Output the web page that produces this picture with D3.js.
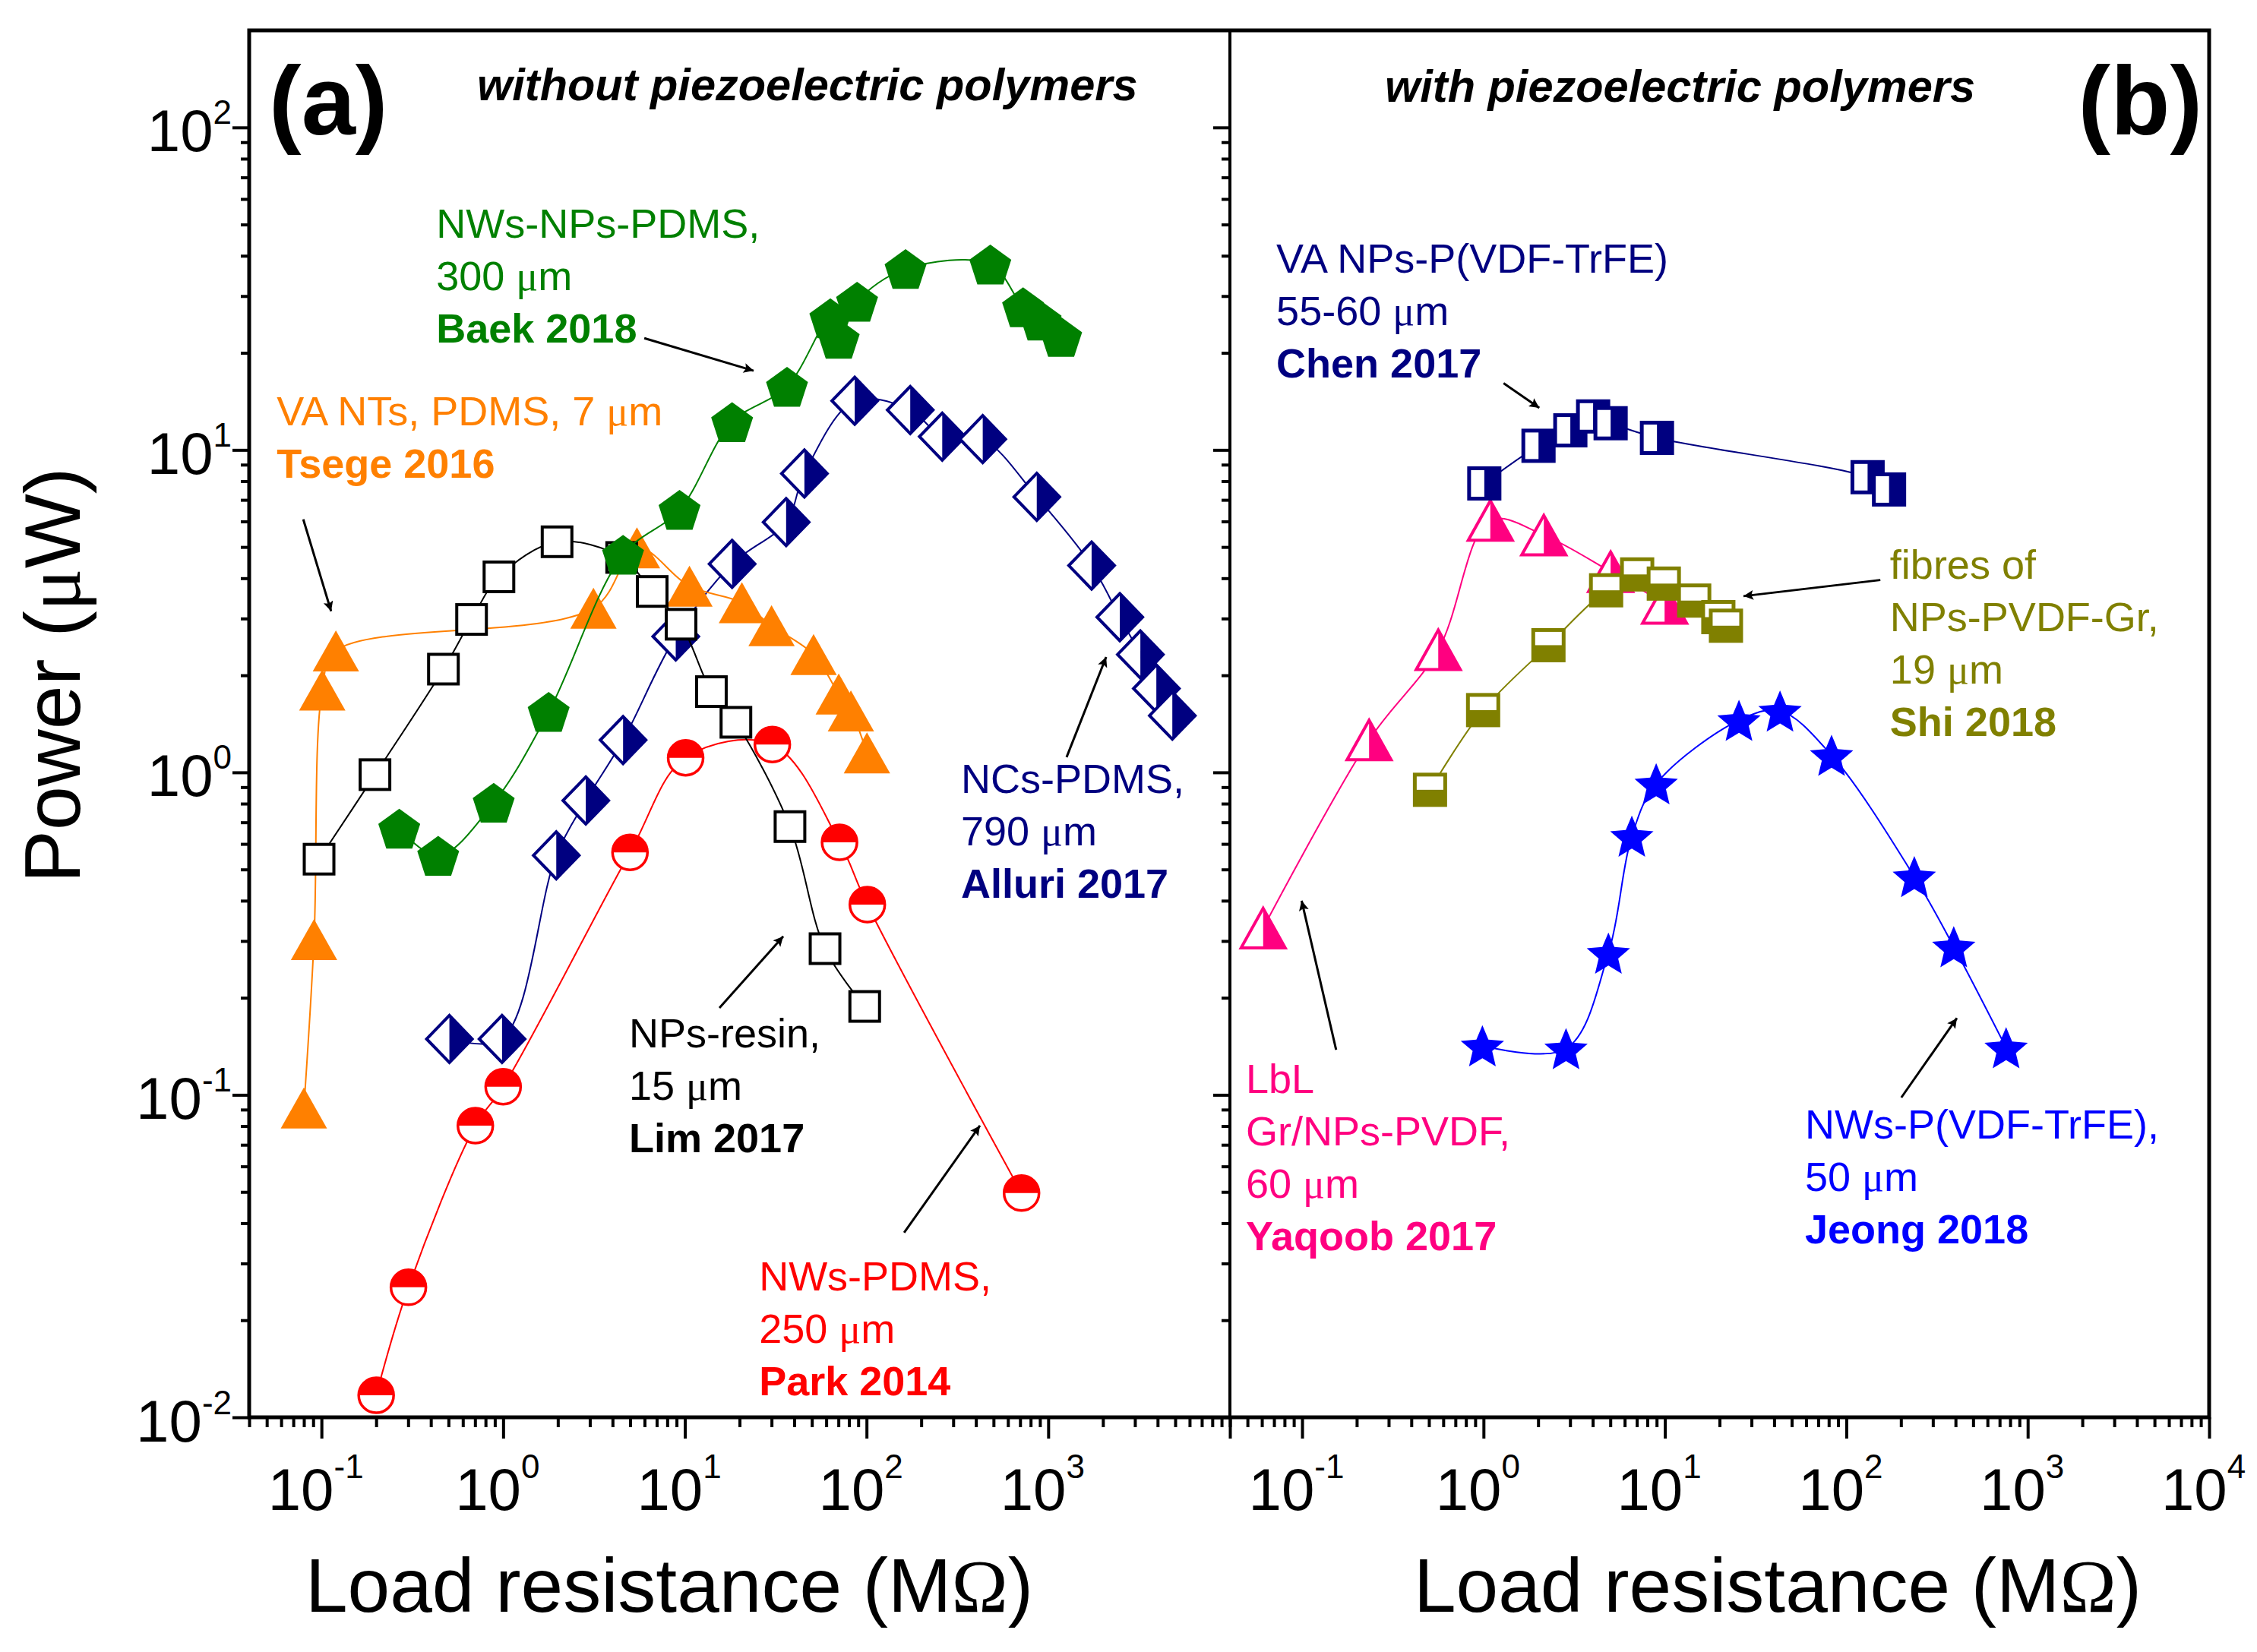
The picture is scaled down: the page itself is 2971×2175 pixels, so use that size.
<!DOCTYPE html>
<html>
<head>
<meta charset="utf-8">
<script src="https://cdn.jsdelivr.net/npm/d3@7"></script>
<style>
  html, body { margin: 0; padding: 0; background: #fff; }
  svg text { font-family: "Liberation Sans", Arial, sans-serif; }
</style>
</head>
<body>
<svg id="chart"></svg>
<script>
'use strict';

// ---- data (R in MOhm, P in uW) ----
// (a) without piezoelectric polymers
const tsegeR = [0.080, 0.091, 0.101, 0.120, 3.14, 5.45, 10.6, 20.6, 30.0, 51.1, 70.3, 82.0, 100.5];
const tsegeP = [0.091, 0.303, 1.80, 2.38, 3.23, 4.97, 3.78, 3.36, 2.85, 2.32, 1.75, 1.55, 1.15];
const limR = [0.097, 0.197, 0.469, 0.670, 0.948, 1.98, 4.49, 6.61, 9.53, 14.0, 19.1, 37.9, 59.1, 97.7];
const limP = [0.538, 0.984, 2.09, 2.98, 4.04, 5.19, 4.64, 3.64, 2.88, 1.78, 1.43, 0.679, 0.284, 0.188];
const baekR = [0.268, 0.439, 0.887, 1.78, 4.57, 9.35, 18.2, 36.5, 63.2, 70.3, 88.7, 164, 480, 727, 908, 1178];
const baekP = [0.669, 0.551, 0.805, 1.54, 4.73, 6.52, 12.2, 15.7, 25.6, 22.1, 28.8, 36.4, 37.6, 27.7, 25.2, 22.4];
const alluriR = [0.506, 0.986, 1.96, 2.85, 4.57, 8.91, 18.2, 36.1, 45.5, 86.1, 174, 261, 436, 865, 1733, 2477, 3214, 3936, 4820];
const alluriP = [0.149, 0.149, 0.553, 0.818, 1.26, 2.64, 4.43, 5.97, 8.45, 14.2, 13.3, 11.0, 10.8, 7.15, 4.38, 3.03, 2.32, 1.82, 1.50];
const parkR = [0.200, 0.301, 0.703, 1.00, 4.99, 10.1, 30.3, 71.0, 101, 713];
const parkP = [0.0117, 0.0253, 0.0803, 0.106, 0.565, 1.11, 1.22, 0.607, 0.389, 0.0496];
// (b) with piezoelectric polymers
const chenR = [1.01, 2.01, 3.01, 4.02, 5.02, 9.04, 131, 172];
const chenP = [7.87, 10.3, 11.5, 12.7, 12.1, 10.9, 8.23, 7.54];
const yaqoobR = [0.0610, 0.234, 0.563, 1.09, 2.15, 5.02, 9.96];
const yaqoobP = [0.329, 1.26, 2.40, 6.04, 5.44, 4.19, 3.34];
const shiR = [0.507, 0.995, 2.28, 4.74, 7.03, 9.86, 14.5, 19.7, 21.7];
const shiP = [0.883, 1.56, 2.48, 3.67, 4.11, 3.85, 3.41, 3.03, 2.85];
const jeongR = [0.986, 2.85, 4.88, 6.57, 8.95, 25.6, 43.1, 82.9, 237, 391, 760];
const jeongP = [0.142, 0.139, 0.275, 0.634, 0.922, 1.45, 1.55, 1.13, 0.475, 0.288, 0.140];

// axes
const xDomain = [0.04, 1e4];
const yDomain = [0.01, 200];
const xLabelsA = [0.1, 1, 10, 100, 1000];
const xLabelsB = [0.1, 1, 10, 100, 1000, 10000];
const yLabels = [0.01, 0.1, 1, 10, 100];

const green = '#008000', orange = '#ff8000', navy = '#000080', red = '#ff0000',
  black = '#000000', olive = '#808000', pink = '#ff0080', blue = '#0000ff';

const seriesA = [
  { r: alluriR, p: alluriP, color: navy, symbol: 'diamondHalf' },
  { r: parkR, p: parkP, color: red, symbol: 'circleHalf' },
  { r: tsegeR, p: tsegeP, color: orange, symbol: 'triangle' },
  { r: limR, p: limP, color: black, symbol: 'openSquare' },
  { r: baekR, p: baekP, color: green, symbol: 'pentagon' }
];
const seriesB = [
  { r: yaqoobR, p: yaqoobP, color: pink, symbol: 'triangleHalf' },
  { r: chenR, p: chenP, color: navy, symbol: 'squareHalfRight' },
  { r: shiR, p: shiP, color: olive, symbol: 'squareHalfBottom' },
  { r: jeongR, p: jeongP, color: blue, symbol: 'star' }
];

// annotations, anchored in data coordinates (first line baseline)
const notesA = [
  { x: 0.428, y: 45.5, color: green, lines: ['NWs-NPs-PDMS,', '300 μm', 'Baek 2018'] },
  { x: 0.0567, y: 11.9, color: orange, lines: ['VA NTs, PDMS, 7 μm', 'Tsege 2016'] },
  { x: 4.93, y: 0.140, color: black, lines: ['NPs-resin,', '15 μm', 'Lim 2017'] },
  { x: 331, y: 0.861, color: navy, lines: ['NCs-PDMS,', '790 μm', 'Alluri 2017'] },
  { x: 25.6, y: 0.0247, color: red, lines: ['NWs-PDMS,', '250 μm', 'Park 2014'] }
];
const notesB = [
  { x: 0.0721, y: 35.5, color: navy, lines: ['VA NPs-P(VDF-TrFE)', '55-60 μm', 'Chen 2017'] },
  { x: 174, y: 3.99, color: olive, lines: ['fibres of', 'NPs-PVDF-Gr,', '19 μm', 'Shi 2018'] },
  { x: 0.0490, y: 0.1016, color: pink, lines: ['LbL', 'Gr/NPs-PVDF,', '60 μm', 'Yaqoob 2017'] },
  { x: 59.2, y: 0.0732, color: blue, lines: ['NWs-P(VDF-TrFE),', '50 μm', 'Jeong 2018'] }
];
const arrowsA = [
  [[5.98, 22.2], [23.9, 17.6]],
  [[0.0794, 6.09], [0.113, 3.16]],
  [[15.5, 0.186], [34.8, 0.310]],
  [[1262, 1.115], [2083, 2.28]],
  [[161, 0.0374], [421, 0.0803]]
];
const arrowsB = [
  [[1.29, 16.1], [2.03, 13.5]],
  [[154, 3.95], [27.1, 3.52]],
  [[0.154, 0.138], [0.0994, 0.400]],
  [[201, 0.0981], [407, 0.173]]
];

// ---- layout ----
const W = 2971, H = 2175;
const frame = { left: 328, mid: 1619, right: 2908, top: 40, bottom: 1866 };

const svg = d3.select('#chart').attr('width', W).attr('height', H);
svg.append('rect').attr('width', W).attr('height', H).attr('fill', '#fff');

const y = d3.scaleLog().domain(yDomain).range([frame.bottom, frame.top]);
const xA = d3.scaleLog().domain(xDomain).range([frame.left, frame.mid]);
const xB = d3.scaleLog().domain(xDomain).range([frame.mid, frame.right]);

const defs = svg.append('defs');
defs.append('marker')
  .attr('id', 'arrowhead')
  .attr('viewBox', '0 0 10 10')
  .attr('refX', 10)
  .attr('refY', 5)
  .attr('markerWidth', 24)
  .attr('markerHeight', 13)
  .attr('markerUnits', 'userSpaceOnUse')
  .attr('orient', 'auto')
  .append('path')
  .attr('d', 'M0,0L10,5L0,10L2,5Z')
  .attr('fill', '#000');

// minor / major log ticks inside a domain
function logTicks(domain) {
  const major = [], minor = [];
  const lo = Math.floor(Math.log10(domain[0])), hi = Math.ceil(Math.log10(domain[1]));
  for (let e = lo; e <= hi; e++) {
    const base = Math.pow(10, e);
    if (base >= domain[0] && base <= domain[1]) major.push(base);
    for (let k = 2; k <= 9; k++) {
      const v = k * base;
      if (v >= domain[0] && v < domain[1]) minor.push(v);
    }
  }
  return { major, minor };
}

function powerLabel(text, v, raise) {
  const e = Math.round(Math.log10(v));
  text.text(null);
  text.append('tspan').text('10');
  text.append('tspan').attr('dy', -raise).attr('font-size', 44).text(e);
}

function styleAxis(g) {
  g.select('.domain').remove();
  g.selectAll('.tick line').attr('stroke', '#000').attr('stroke-width', 4);
  g.attr('font-family', '"Liberation Sans", Arial, sans-serif').attr('font-size', 78);
}

const xT = logTicks(xDomain);
const yT = logTicks(yDomain);

function drawXAxis(scale, labels) {
  const gMinor = svg.append('g').attr('transform', `translate(0,${frame.bottom})`)
    .call(d3.axisBottom(scale).tickValues(xT.minor).tickSize(13).tickSizeOuter(0).tickFormat(''));
  styleAxis(gMinor);
  const gMajor = svg.append('g').attr('transform', `translate(0,${frame.bottom})`)
    .call(d3.axisBottom(scale).tickValues(xT.major).tickSize(28).tickSizeOuter(0).tickFormat(''));
  styleAxis(gMajor);
  gMajor.selectAll('.tick')
    .filter(d => labels.includes(d))
    .select('text')
    .attr('fill', '#000')
    .attr('y', 122)
    .attr('dy', 0)
    .attr('dx', -8)
    .each(function(d) { powerLabel(d3.select(this), d, 42); });
}

function drawYAxis(xPos, withLabels) {
  const gMinor = svg.append('g').attr('transform', `translate(${xPos},0)`)
    .call(d3.axisLeft(y).tickValues(yT.minor).tickSize(11).tickSizeOuter(0).tickFormat(''));
  styleAxis(gMinor);
  const gMajor = svg.append('g').attr('transform', `translate(${xPos},0)`)
    .call(d3.axisLeft(y).tickValues(yT.major).tickSize(22).tickSizeOuter(0).tickPadding(1).tickFormat(''));
  styleAxis(gMajor);
  if (withLabels) {
    gMajor.selectAll('.tick')
      .filter(d => yLabels.includes(d))
      .select('text')
      .attr('fill', '#000')
      .attr('y', 31)
      .attr('dy', 0)
      .each(function(d) { powerLabel(d3.select(this), d, 36); });
  }
}

drawXAxis(xA, xLabelsA);
drawXAxis(xB, xLabelsB);
drawYAxis(frame.left, true);
drawYAxis(frame.mid, false);

// frame
svg.append('rect')
  .attr('x', frame.left).attr('y', frame.top)
  .attr('width', frame.right - frame.left).attr('height', frame.bottom - frame.top)
  .attr('fill', 'none').attr('stroke', '#000').attr('stroke-width', 5);
svg.append('line')
  .attr('x1', frame.mid).attr('x2', frame.mid)
  .attr('y1', frame.top).attr('y2', frame.bottom)
  .attr('stroke', '#000').attr('stroke-width', 4);

// ---- symbols ----
function polyPath(n, R, rInner) {
  const pts = [];
  const steps = rInner ? 2 * n : n;
  for (let i = 0; i < steps; i++) {
    const a = -Math.PI / 2 + i * 2 * Math.PI / steps;
    const rad = rInner && i % 2 ? rInner : R;
    pts.push([rad * Math.cos(a), rad * Math.sin(a) + 0.095 * R]);
  }
  return 'M' + pts.map(p => p[0].toFixed(2) + ',' + p[1].toFixed(2)).join('L') + 'Z';
}

function drawSymbol(g, kind, color) {
  switch (kind) {
    case 'openSquare':
      g.append('rect').attr('x', -19.5).attr('y', -19.5).attr('width', 39).attr('height', 39)
        .attr('fill', '#fff').attr('stroke', color).attr('stroke-width', 4);
      break;
    case 'triangle':
      g.append('path').attr('d', 'M0,-27L30.5,27L-30.5,27Z').attr('fill', color);
      break;
    case 'pentagon':
      g.append('path').attr('d', polyPath(5, 29)).attr('fill', color);
      break;
    case 'star':
      g.append('path').attr('d', polyPath(5, 30, 13.5)).attr('fill', color);
      break;
    case 'diamondHalf':
      g.append('path').attr('d', 'M0,-31L30,0L0,31L-30,0Z').attr('fill', '#fff');
      g.append('path').attr('d', 'M0,-31L30,0L0,31Z').attr('fill', color);
      g.append('path').attr('d', 'M0,-31L30,0L0,31L-30,0Z').attr('fill', 'none')
        .attr('stroke', color).attr('stroke-width', 4);
      break;
    case 'circleHalf':
      g.append('circle').attr('r', 23).attr('fill', '#fff');
      g.append('path').attr('d', 'M-23,0A23,23 0 0,1 23,0Z').attr('fill', color);
      g.append('circle').attr('r', 23).attr('fill', 'none').attr('stroke', color).attr('stroke-width', 3.5);
      break;
    case 'triangleHalf':
      g.append('path').attr('d', 'M0,-26L29,26L-29,26Z').attr('fill', '#fff');
      g.append('path').attr('d', 'M0,-26L29,26L0,26Z').attr('fill', color);
      g.append('path').attr('d', 'M0,-26L29,26L-29,26Z').attr('fill', 'none')
        .attr('stroke', color).attr('stroke-width', 4);
      break;
    case 'squareHalfRight':
      g.append('rect').attr('x', -20).attr('y', -20).attr('width', 40).attr('height', 40).attr('fill', '#fff');
      g.append('rect').attr('x', 0).attr('y', -20).attr('width', 20).attr('height', 40).attr('fill', color);
      g.append('rect').attr('x', -20).attr('y', -20).attr('width', 40).attr('height', 40)
        .attr('fill', 'none').attr('stroke', color).attr('stroke-width', 5);
      break;
    case 'squareHalfBottom':
      g.append('rect').attr('x', -20).attr('y', -20).attr('width', 40).attr('height', 40).attr('fill', '#fff');
      g.append('rect').attr('x', -20).attr('y', 0).attr('width', 40).attr('height', 20).attr('fill', color);
      g.append('rect').attr('x', -20).attr('y', -20).attr('width', 40).attr('height', 40)
        .attr('fill', 'none').attr('stroke', color).attr('stroke-width', 5);
      break;
  }
}

function drawSeries(list, x) {
  list.forEach(s => {
    const pts = s.r.map((r, i) => [r, s.p[i]]);
    const g = svg.append('g');
    g.append('path')
      .datum(pts)
      .attr('fill', 'none')
      .attr('stroke', s.color)
      .attr('stroke-width', 2)
      .attr('d', d3.line()
        .x(d => x(d[0]))
        .y(d => y(d[1]))
        .curve(d3.curveCatmullRom.alpha(0.5)));
    g.selectAll('g.pt')
      .data(pts)
      .join('g')
      .attr('class', 'pt')
      .attr('transform', d => `translate(${x(d[0])},${y(d[1])})`)
      .each(function() { drawSymbol(d3.select(this), s.symbol, s.color); });
  });
}

drawSeries(seriesA, xA);
drawSeries(seriesB, xB);

// ---- annotations ----
function addText(parent, str) {
  // the micro sign is set in a serif face, as in the original
  const parts = str.split('μ');
  parts.forEach((part, i) => {
    if (i > 0) parent.append('tspan').attr('font-family', '"Liberation Serif", "Times New Roman", serif').text('μ');
    if (part) parent.append('tspan').text(part);
  });
}

function drawNotes(list, x) {
  list.forEach(n => {
    n.lines.forEach((line, i) => {
      const t = svg.append('text')
        .attr('x', x(n.x))
        .attr('y', y(n.y) + i * 69)
        .attr('font-size', 54)
        .attr('fill', n.color)
        .attr('font-weight', i === n.lines.length - 1 ? 'bold' : 'normal');
      addText(t, line);
    });
  });
}

function drawArrows(list, x) {
  list.forEach(a => {
    svg.append('line')
      .attr('x1', x(a[0][0])).attr('y1', y(a[0][1]))
      .attr('x2', x(a[1][0])).attr('y2', y(a[1][1]))
      .attr('stroke', '#000').attr('stroke-width', 3)
      .attr('marker-end', 'url(#arrowhead)');
  });
}

drawNotes(notesA, xA);
drawNotes(notesB, xB);
drawArrows(arrowsA, xA);
drawArrows(arrowsB, xB);

// panel titles and letters
svg.append('text').attr('x', 628).attr('y', 132)
  .attr('font-size', 59.5).attr('font-weight', 'bold').attr('font-style', 'italic')
  .text('without piezoelectric polymers');
svg.append('text').attr('x', 1823).attr('y', 134)
  .attr('font-size', 59.5).attr('font-weight', 'bold').attr('font-style', 'italic')
  .text('with piezoelectric polymers');
svg.append('text').attr('x', 354).attr('y', 177)
  .attr('font-size', 128).attr('font-weight', 'bold').text('(a)');
svg.append('text').attr('x', 2899).attr('y', 177).attr('text-anchor', 'end')
  .attr('font-size', 128).attr('font-weight', 'bold').text('(b)');

// axis titles
function axisTitle(t) {
  t.append('tspan').text('Load resistance (M');
  t.append('tspan').attr('font-family', '"Liberation Serif", "Times New Roman", serif').text('Ω');
  t.append('tspan').text(')');
}
axisTitle(svg.append('text').attr('x', 881).attr('y', 2122).attr('text-anchor', 'middle').attr('font-size', 100));
axisTitle(svg.append('text').attr('x', 2340).attr('y', 2122).attr('text-anchor', 'middle').attr('font-size', 100));

const yTitle = svg.append('text')
  .attr('transform', 'translate(105,889) rotate(-90)')
  .attr('text-anchor', 'middle')
  .attr('font-size', 104);
yTitle.append('tspan').text('Power (');
yTitle.append('tspan').attr('font-family', '"Liberation Serif", "Times New Roman", serif').text('μ');
yTitle.append('tspan').text('W)');
</script>
</body>
</html>
